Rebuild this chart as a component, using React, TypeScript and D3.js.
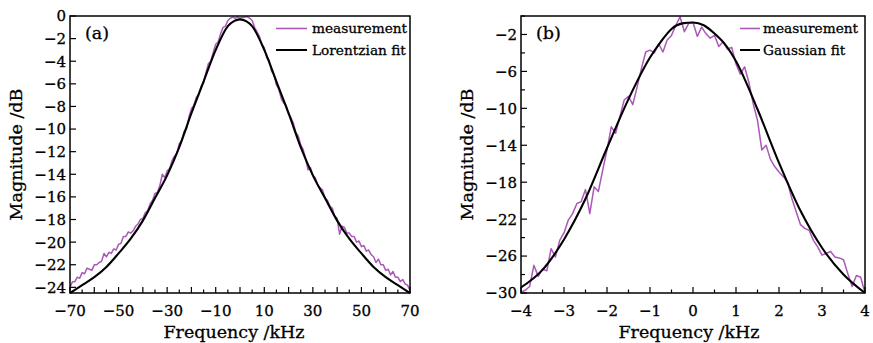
import React from "react";
import * as d3 from "d3";

// ---------- Panel (a): Lorentzian ----------
const measAFreq: number[] = d3.range(-70, 71, 1);
const measAVal: number[] = [
  -24.0, -23.5, -23.5, -23.1, -23.2, -22.7, -22.8, -22.3, -22.4, -22.5,
  -22.0, -22.0, -21.8, -21.7, -21.0, -21.3, -20.9, -21.0, -20.6, -20.7,
  -20.2, -20.1, -19.5, -19.5, -19.1, -19.2, -19.0, -18.6, -18.4, -18.0,
  -17.9, -17.4, -17.2, -16.6, -16.3, -15.7, -15.6, -15.0, -14.0, -14.3,
  -13.7, -13.5, -12.8, -12.4, -12.2, -11.3, -11.0, -10.2, -10.0, -8.9,
  -8.2, -7.9, -7.2, -6.9, -6.2, -5.9, -5.0, -4.2, -4.0, -3.2,
  -2.5, -2.3, -1.6, -1.0, -0.9, -0.4, -0.2, -0.1, -0.2, -0.05,
  -0.2,
  -0.1, -0.1, -0.05, -0.2, -0.4, -1.0, -1.4, -1.8, -2.5, -2.8,
  -3.7, -3.9, -4.9, -5.2, -6.1, -6.5, -7.3, -7.7, -7.9, -8.7,
  -9.0, -9.5, -10.3, -10.6, -11.4, -11.8, -12.6, -13.6, -13.4, -14.1,
  -14.3, -15.0, -15.2, -15.4, -16.1, -16.3, -16.8, -17.0, -17.7, -17.9,
  -19.3, -18.6, -18.7, -19.2, -19.2, -19.5, -19.5, -20.0, -19.9, -20.4,
  -20.3, -20.8, -20.7, -21.1, -21.3, -21.8, -21.5, -22.0, -22.0, -22.5,
  -22.4, -22.9, -22.6, -23.1, -23.1, -23.5, -23.3, -23.7, -23.8, -24.3,
];
const fitAFreq: number[] = [-70, -65, -60, -55, -50, -45, -40, -35, -30, -25, -20, -15, -10, -5, -2.5, 0, 2.5, 5, 10, 15, 20, 25, 30, 35, 40, 45, 50, 55, 60, 65, 70];
const fitAVal: number[] = [-24.5, -23.8, -23.1, -22.2, -21.0, -19.7, -18.1, -16.1, -14.1, -11.6, -8.6, -5.8, -3.0, -0.9, -0.45, -0.3, -0.45, -0.9, -3.0, -5.8, -8.6, -11.6, -14.1, -16.1, -18.1, -19.7, -21.0, -22.2, -23.1, -23.8, -24.5];
const xTicksA: number[] = d3.range(-70, 71, 5);
const xLabelsA: number[] = [-70, -50, -30, -10, 10, 30, 50, 70];
const yTicksA: number[] = d3.range(-24, 1, 2);
const yLabelsA: number[] = [-24, -22, -20, -18, -16, -14, -12, -10, -8, -6, -4, -2, 0];

// ---------- Panel (b): Gaussian ----------
const measBFreq: number[] = d3.range(-40, 41, 1).map((d) => d / 10);
const measBVal: number[] = [
  -29.9, -29.7, -29.3, -27.0, -28.2, -27.4, -27.6, -25.2, -26.1, -24.3,
  -23.5, -22.1, -21.4, -20.3, -20.1, -18.8, -21.4, -18.5, -19.0, -16.7,
  -14.5, -12.0, -12.7, -10.9, -9.1, -8.7, -9.6, -7.7, -5.7, -3.9,
  -3.7, -4.0, -3.0, -3.9, -2.6, -2.1, -1.0, -0.1, -1.7, -0.8,
  -0.7,
  -2.2, -1.2, -1.9, -2.4, -2.1, -3.3, -2.8, -3.6, -3.4, -5.2,
  -6.3, -5.5, -7.2, -9.5, -11.3, -14.5, -14.0, -15.5, -16.3, -16.9,
  -17.4, -18.0, -19.8, -21.2, -22.6, -23.0, -23.2, -24.3, -25.0, -25.9,
  -25.7, -25.5, -26.1, -26.2, -26.4, -27.9, -29.3, -28.1, -28.3, -30.0,
];
const fitBFreq: number[] = [-4, -3.5, -3, -2.5, -2, -1.5, -1, -0.75, -0.5, -0.25, 0, 0.25, 0.5, 0.75, 1, 1.5, 2, 2.5, 3, 3.5, 4];
const fitBVal: number[] = [-29.4, -27.5, -24.2, -19.8, -14.3, -9.0, -4.5, -2.8, -1.4, -0.8, -0.7, -1.0, -1.9, -3.1, -4.9, -10.1, -15.9, -21.1, -25.1, -28.0, -30.0];
const xTicksB: number[] = d3.range(-8, 9, 1).map((d) => d / 2);
const xLabelsB: number[] = [-4, -3, -2, -1, 0, 1, 2, 3, 4];
const yTicksB: number[] = d3.range(-30, 1, 2);
const yLabelsB: number[] = [-30, -26, -22, -18, -14, -10, -6, -2];

const PURPLE = "#ab58b8";
const FONT = "'DejaVu Serif', serif";
const TS = { stroke: "#000", strokeWidth: 0.3 } as const;

const fmt = (v: number) => (v < 0 ? "\u2212" + Math.abs(v) : String(v));

type PanelProps = {
  x0: number; x1: number; y0: number; y1: number;
  xDomain: [number, number]; yDomain: [number, number];
  xTicks: number[]; xLabels: number[]; isMajorX: (v: number) => boolean;
  yTicks: number[]; yLabels: number[];
  measF: number[]; measV: number[]; fitF: number[]; fitV: number[];
  tag: string; fitName: string;
  legLine: [number, number]; legText: number;
  yTitleX: number; xTitleX: number;
};

function Panel(p: PanelProps) {
  const x = d3.scaleLinear().domain(p.xDomain).range([p.x0, p.x1]);
  const y = d3.scaleLinear().domain(p.yDomain).range([p.y1, p.y0]);
  const measLine = d3.line<number>().x((_, i) => x(p.measF[i])).y((d) => y(d));
  const fitLine = d3.line<number>().x((_, i) => x(p.fitF[i])).y((d) => y(d)).curve(d3.curveMonotoneX);
  const clipId = "clip" + p.tag.replace(/[()]/g, "");
  return (
    <g>
      <defs>
        <clipPath id={clipId}>
          <rect x={p.x0} y={p.y0 - 1} width={p.x1 - p.x0} height={p.y1 - p.y0 + 2} />
        </clipPath>
      </defs>
      <g clipPath={`url(#${clipId})`}>
        <path d={measLine(p.measV) || ""} fill="none" stroke={PURPLE} strokeWidth={1.5} strokeLinejoin="round" />
        <path d={fitLine(p.fitV) || ""} fill="none" stroke="#000" strokeWidth={2.1} />
      </g>
      {p.xTicks.map((t) => {
        const len = p.isMajorX(t) ? 6 : 3.5;
        return <line key={"xt" + t} x1={x(t)} x2={x(t)} y1={p.y1} y2={p.y1 - len} stroke="#000" strokeWidth={1.2} />;
      })}
      {p.yTicks.map((t) => {
        const len = p.yLabels.includes(t) ? 6 : 4;
        return <line key={"yt" + t} x1={p.x0} x2={p.x0 + len} y1={y(t)} y2={y(t)} stroke="#000" strokeWidth={1.2} />;
      })}
      <rect x={p.x0} y={p.y0} width={p.x1 - p.x0} height={p.y1 - p.y0} fill="none" stroke="#000" strokeWidth={1.5} />
      {p.xLabels.map((t) => (
        <text key={"xl" + t} x={x(t)} y={316} textAnchor="middle" fontFamily={FONT} fontSize={15} {...TS}>{fmt(t)}</text>
      ))}
      {p.yLabels.map((t) => (
        <text key={"yl" + t} x={p.x0 - 4} y={y(t)} dy="0.36em" textAnchor="end" fontFamily={FONT} fontSize={15} {...TS}>{fmt(t)}</text>
      ))}
      <text x={p.xTitleX} y={338} textAnchor="middle" fontFamily={FONT} fontSize={17.5} {...TS}>Frequency /kHz</text>
      <text transform={`translate(${p.yTitleX},${(p.y0 + p.y1) / 2}) rotate(-90)`} dy="0.36em" textAnchor="middle" fontFamily={FONT} fontSize={17.5} {...TS}>Magnitude /dB</text>
      <text x={p.x0 + 15} y={33} dy="0.36em" fontFamily={FONT} fontSize={17.5} {...TS}>{p.tag}</text>
      <line x1={p.legLine[0]} x2={p.legLine[1]} y1={28.5} y2={28.5} stroke={PURPLE} strokeWidth={1.6} />
      <text x={p.legText} y={28.5} dy="0.36em" fontFamily={FONT} fontSize={13.7} {...TS}>measurement</text>
      <line x1={p.legLine[0]} x2={p.legLine[1]} y1={50} y2={50} stroke="#000" strokeWidth={2} />
      <text x={p.legText} y={50} dy="0.36em" fontFamily={FONT} fontSize={13.7} {...TS}>{p.fitName}</text>
    </g>
  );
}

export default function App() {
  return (
    <svg width={873} height={343} style={{ position: "absolute", left: 0, top: 0, background: "#fff" }}>
      <Panel
        x0={70} x1={410} y0={16} y1={293}
        xDomain={[-70, 70]} yDomain={[-24.5, 0]}
        xTicks={xTicksA} xLabels={xLabelsA} isMajorX={(v) => v % 10 === 0}
        yTicks={yTicksA} yLabels={yLabelsA}
        measF={measAFreq} measV={measAVal} fitF={fitAFreq} fitV={fitAVal}
        tag="(a)" fitName="Lorentzian fit"
        legLine={[276, 307]} legText={312}
        yTitleX={16} xTitleX={234}
      />
      <Panel
        x0={521} x1={865} y0={16} y1={293}
        xDomain={[-4, 4]} yDomain={[-30, 0]}
        xTicks={xTicksB} xLabels={xLabelsB} isMajorX={(v) => Number.isInteger(v)}
        yTicks={yTicksB} yLabels={yLabelsB}
        measF={measBFreq} measV={measBVal} fitF={fitBFreq} fitV={fitBVal}
        tag="(b)" fitName="Gaussian fit"
        legLine={[740, 760]} legText={763}
        yTitleX={466.5} xTitleX={689}
      />
    </svg>
  );
}
